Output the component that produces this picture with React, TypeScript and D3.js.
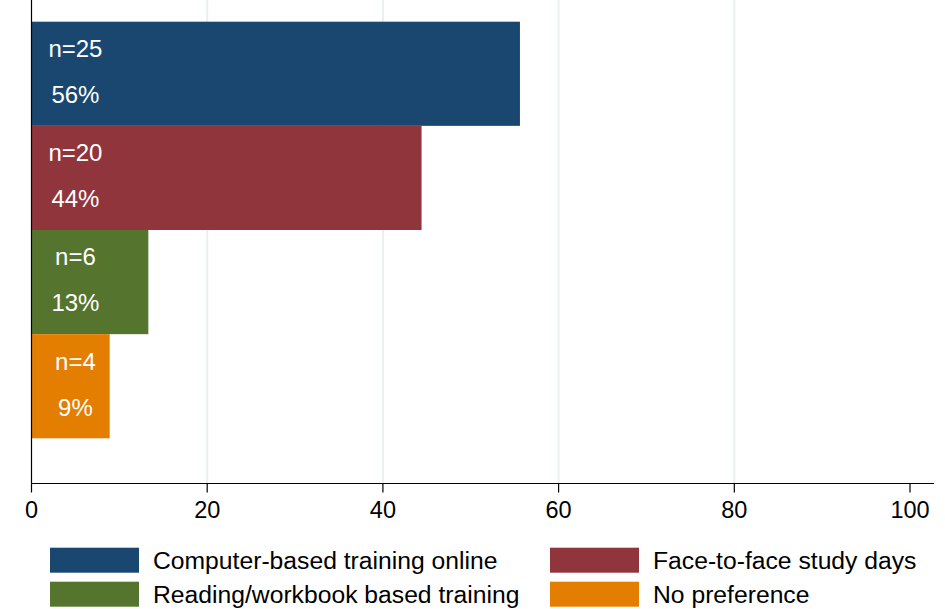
import { useEffect, useRef } from "react";
import * as d3 from "d3";

const categories = [
  "Computer-based training online",
  "Face-to-face study days",
  "Reading/workbook based training",
  "No preference",
];
const counts = [25, 20, 6, 4];
const percents = [55.6, 44.4, 13.3, 8.9];
const pctLabels = ["56%", "44%", "13%", "9%"];
const xTicks = [0, 20, 40, 60, 80, 100];
const gridTicks = [20, 40, 60, 80];

const COLORS = ["#1a476f", "#90353b", "#55752f", "#e37e00"];

const W = 945;
const H = 609;
const FONT = "'Liberation Sans', Arial, sans-serif";

export default function App() {
  const ref = useRef<SVGSVGElement | null>(null);

  useEffect(() => {
    if (!ref.current) return;
    const svg = d3.select(ref.current);
    svg.selectAll("*").remove();

    const x = d3.scaleLinear().domain([0, 100]).range([31.5, 910]);
    const y = d3.scaleBand<string>().domain(categories).range([21.7, 438.3]).padding(0);
    const axisY = 483.5;

    // grid lines
    svg
      .append("g")
      .selectAll("line")
      .data(gridTicks)
      .enter()
      .append("line")
      .attr("x1", (d) => x(d))
      .attr("x2", (d) => x(d))
      .attr("y1", 0)
      .attr("y2", axisY)
      .attr("stroke", "#e8f0f2")
      .attr("stroke-width", 2);

    // bars
    svg
      .append("g")
      .selectAll("rect")
      .data(categories)
      .enter()
      .append("rect")
      .attr("x", x(0))
      .attr("y", (d) => y(d)!)
      .attr("width", (_, i) => x(percents[i]) - x(0))
      .attr("height", y.bandwidth())
      .attr("fill", (_, i) => COLORS[i]);

    // labels in bars
    const lab = svg.append("g").attr("font-family", FONT).attr("font-size", 24).attr("fill", "#fff").attr("text-anchor", "middle");
    categories.forEach((c, i) => {
      lab
        .append("text")
        .attr("x", x(5))
        .attr("y", y(c)! + 27)
        .attr("dy", "0.35em")
        .text(`n=${counts[i]}`);
      lab
        .append("text")
        .attr("x", x(5))
        .attr("y", y(c)! + 73)
        .attr("dy", "0.35em")
        .text(pctLabels[i]);
    });

    // axes lines
    svg
      .append("line")
      .attr("x1", x(0))
      .attr("x2", x(0))
      .attr("y1", 0)
      .attr("y2", axisY)
      .attr("stroke", "#000")
      .attr("stroke-width", 1.2);
    svg
      .append("line")
      .attr("x1", x(0))
      .attr("x2", 934)
      .attr("y1", axisY)
      .attr("y2", axisY)
      .attr("stroke", "#000")
      .attr("stroke-width", 1.2);

    const ticks = svg.append("g");
    ticks
      .selectAll("line")
      .data(xTicks)
      .enter()
      .append("line")
      .attr("x1", (d) => x(d))
      .attr("x2", (d) => x(d))
      .attr("y1", axisY)
      .attr("y2", axisY + 9)
      .attr("stroke", "#000")
      .attr("stroke-width", 1.2);
    ticks
      .selectAll("text")
      .data(xTicks)
      .enter()
      .append("text")
      .attr("x", (d) => x(d))
      .attr("y", 510)
      .attr("dy", "0.35em")
      .attr("text-anchor", "middle")
      .attr("font-family", FONT)
      .attr("font-size", 23.5)
      .attr("fill", "#000")
      .text((d) => String(d));

    // legend, 2 columns
    const legPos = [
      { sx: 50, sy: 547.7 },
      { sx: 550, sy: 547.7 },
      { sx: 50, sy: 581.7 },
      { sx: 550, sy: 581.7 },
    ];
    const leg = svg.append("g");
    categories.forEach((c, k) => {
      const p = legPos[k];
      leg
        .append("rect")
        .attr("x", p.sx)
        .attr("y", p.sy)
        .attr("width", 89)
        .attr("height", 25)
        .attr("fill", COLORS[k]);
      leg
        .append("text")
        .attr("x", p.sx + 103)
        .attr("y", p.sy + 12.5)
        .attr("dy", "0.35em")
        .attr("font-family", FONT)
        .attr("font-size", 24.7)
        .attr("fill", "#000")
        .text(c);
    });
  }, []);

  return (
    <div style={{ position: "absolute", left: 0, top: 0, width: W, height: H, background: "#fff" }}>
      <svg ref={ref} width={W} height={H} style={{ display: "block" }} />
    </div>
  );
}
